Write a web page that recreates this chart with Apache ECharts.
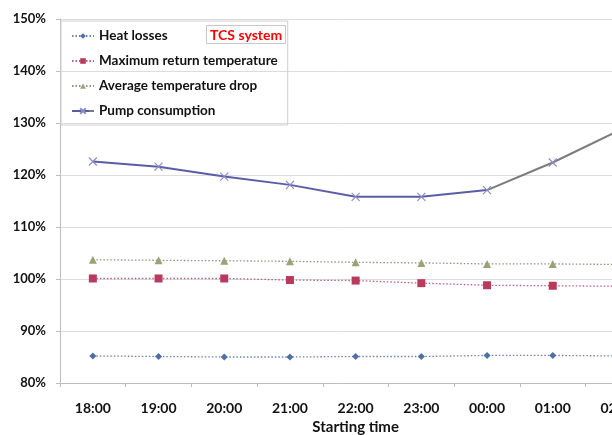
<!DOCTYPE html>
<html>
<head>
<meta charset="utf-8">
<script src="https://cdn.jsdelivr.net/npm/echarts@6/dist/echarts.min.js"></script>
<style>
  html, body { margin: 0; padding: 0; background: #fff; }
  #chart { width: 612px; height: 435px; }
</style>
</head>
<body>
<div id="chart"></div>
<script>
// Start times of the operating runs
const startTimes = ['18:00', '19:00', '20:00', '21:00', '22:00', '23:00', '00:00', '01:00', '02:00'];

// Relative values (% of reference case)
const heatLosses = [85.2, 85.1, 85.0, 85.0, 85.1, 85.1, 85.3, 85.3, 85.2];
const maxReturnTemp = [100.1, 100.1, 100.1, 99.8, 99.7, 99.2, 98.8, 98.7, 98.6];
const avgTempDrop = [103.7, 103.6, 103.5, 103.4, 103.2, 103.1, 102.9, 102.9, 102.8];
const pumpConsumption = [122.6, 121.6, 119.7, 118.1, 115.8, 115.8, 117.1, 122.4, 128.5];

// Value axis ticks
const yTicks = [80, 90, 100, 110, 120, 130, 140, 150];

const FONT = 'Lato, "Liberation Sans", sans-serif';
const crossSymbol = 'path://M0,0L10,10M10,0L0,10';

// Pump line turns grey from 00:00 onwards (fraction along the line's extent)
const splitAt = startTimes.indexOf('00:00') / (startTimes.length - 1);
const pumpLineColor = new echarts.graphic.LinearGradient(0, 0, 1, 0, [
  { offset: 0, color: '#5b5ca8' },
  { offset: splitAt, color: '#5b5ca8' },
  { offset: splitAt, color: '#7b7b7f' },
  { offset: 1, color: '#7b7b7f' }
]);

const chart = echarts.init(document.getElementById('chart'), null, { renderer: 'canvas' });

chart.setOption({
  animation: false,
  backgroundColor: '#ffffff',
  textStyle: { fontFamily: FONT },
  title: {
    text: 'TCS system',
    left: 206,
    top: 25,
    padding: [3, 4, 2, 4],
    borderColor: '#c8c8c8',
    borderWidth: 1,
    textStyle: { color: '#ff0000', fontSize: 14, fontWeight: 'bold', fontFamily: FONT }
  },
  legend: {
    orient: 'vertical',
    left: 61,
    top: 21,
    padding: [8, 10, 7, 10],
    borderColor: '#cfcfcf',
    borderWidth: 1,
    itemWidth: 22,
    itemHeight: 7,
    itemGap: 11,
    textStyle: { fontSize: 13.5, fontWeight: 'bold', color: '#111', fontFamily: FONT },
    data: ['Heat losses', 'Maximum return temperature', 'Average temperature drop', 'Pump consumption']
  },
  grid: {
    left: 60,
    top: 19,
    bottom: 52,
    width: 65.7 * startTimes.length,
    containLabel: false,
    outerBoundsMode: 'none'
  },
  xAxis: {
    type: 'category',
    data: startTimes,
    boundaryGap: true,
    name: 'Starting time',
    nameLocation: 'middle',
    nameGap: 36,
    nameTextStyle: { fontSize: 15, fontWeight: 'bold', color: '#111', fontFamily: FONT },
    axisLine: { lineStyle: { color: '#bdbdbd', width: 1 } },
    axisTick: { show: true, length: 4, lineStyle: { color: '#bdbdbd' } },
    axisLabel: { fontSize: 14, fontWeight: 'bold', color: '#111', margin: 18, fontFamily: FONT },
    splitLine: { show: false }
  },
  yAxis: {
    type: 'value',
    min: yTicks[0],
    max: yTicks[yTicks.length - 1],
    interval: 10,
    axisLine: { show: true, lineStyle: { color: '#bdbdbd', width: 1 } },
    axisTick: { show: true, length: 4, lineStyle: { color: '#bdbdbd' } },
    axisLabel: {
      fontSize: 13, fontWeight: 'bold', color: '#111', margin: 14, fontFamily: FONT,
      formatter: v => v + '%'
    },
    splitLine: { show: true, lineStyle: { color: '#dcdcdc', width: 1 } }
  },
  series: [
    {
      name: 'Heat losses',
      type: 'line',
      data: heatLosses,
      symbol: 'diamond',
      symbolSize: 7,
      itemStyle: { color: '#4f6fa8' },
      lineStyle: { color: '#6e80b0', width: 1.3, type: [1.5, 2] }
    },
    {
      name: 'Maximum return temperature',
      type: 'line',
      data: maxReturnTemp,
      symbol: 'rect',
      symbolSize: 8,
      itemStyle: { color: '#b83a5e' },
      lineStyle: { color: '#b8607a', width: 1.3, type: [1.5, 2] }
    },
    {
      name: 'Average temperature drop',
      type: 'line',
      data: avgTempDrop,
      symbol: 'triangle',
      symbolSize: 8,
      itemStyle: { color: '#9aa276' },
      lineStyle: { color: '#8f9480', width: 1.3, type: [1.5, 2] }
    },
    {
      name: 'Pump consumption',
      type: 'line',
      data: pumpConsumption,
      symbol: crossSymbol,
      symbolSize: 8,
      itemStyle: { color: '#8c8ec4', borderColor: '#8c8ec4', borderWidth: 1.2 },
      lineStyle: { color: pumpLineColor, width: 2 }
    }
  ]
});
</script>
</body>
</html>
